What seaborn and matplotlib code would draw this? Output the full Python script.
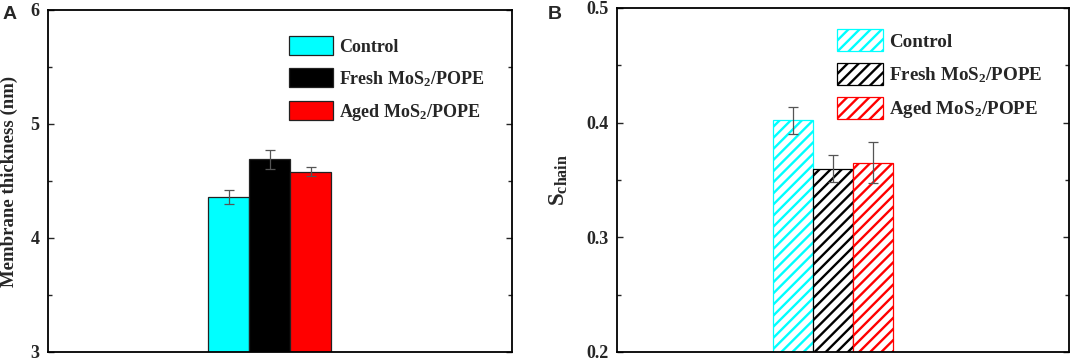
import pandas as pd
import matplotlib
matplotlib.use('Agg')
import matplotlib.pyplot as plt
import seaborn as sns
from matplotlib.ticker import MultipleLocator

# 数据
groups = ['Control', 'Fresh MoS$_2$/POPE', 'Aged MoS$_2$/POPE']
colors = ['#00FFFF', '#000000', '#FF0000']
thickness = [4.36, 4.69, 4.58]
thickness_err = [0.06, 0.085, 0.04]
schain = [0.402, 0.360, 0.365]
schain_err = [0.012, 0.012, 0.018]

sns.set_style('ticks')
plt.rcParams['font.family'] = ['Liberation Serif', 'DejaVu Serif']
plt.rcParams['font.weight'] = 'bold'
plt.rcParams['mathtext.fontset'] = 'custom'
plt.rcParams['mathtext.rm'] = 'Liberation Serif:bold'
plt.rcParams['mathtext.it'] = 'Liberation Serif:bold'
plt.rcParams['mathtext.bf'] = 'Liberation Serif:bold'
plt.rcParams['hatch.linewidth'] = 1.7

fig = plt.figure(figsize=(10.72, 3.6), dpi=100)
ax1 = fig.add_axes([48 / 1072, 8 / 360, 464 / 1072, 342 / 360])
ax2 = fig.add_axes([617 / 1072, 8 / 360, 452 / 1072, 344 / 360])

df_a = pd.DataFrame({'组': groups, '值': thickness})
df_b = pd.DataFrame({'组': groups, '值': schain})

# A: 实心柱
sns.barplot(data=df_a, x='组', y='值', hue='组', palette=colors, width=1.0,
            errorbar=None, legend=False, ax=ax1, edgecolor='#222222', linewidth=0.9,
            saturation=1)

# B: 斜线填充柱
sns.barplot(data=df_b, x='组', y='值', hue='组', palette=colors, width=1.0,
            errorbar=None, legend=False, ax=ax2, saturation=1)
for p, c in zip(ax2.patches, colors):
    p.set_facecolor('white')
    p.set_edgecolor(c)
    p.set_linewidth(0.9)
    p.set_hatch('///')

for ax, vals, errs in [(ax1, thickness, thickness_err), (ax2, schain, schain_err)]:
    xs = [p.get_x() + p.get_width() / 2 for p in ax.patches[:len(vals)]]
    ax.errorbar(xs, vals, yerr=errs, fmt='none', ecolor='#555555',
                elinewidth=0.9, capsize=3.5, capthick=0.9, zorder=5)
    ax.set_xlim(1 - 5.4, 1 + 5.9)
    ax.set_xticks([])
    ax.set_xlabel('')
    for s in ax.spines.values():
        s.set_visible(True)
        s.set_linewidth(1.3)
        s.set_color('black')
    ax.tick_params(axis='y', which='major', direction='in', left=True, right=True,
                   length=4, width=1.0, labelsize=13, pad=6)
    ax.tick_params(axis='y', which='minor', direction='in', left=True, right=True,
                   length=3, width=1.0)
    for t in ax.get_yticklabels():
        t.set_fontweight('bold')

ax1.set_ylim(3, 6)
ax1.yaxis.set_major_locator(MultipleLocator(1))
ax1.yaxis.set_minor_locator(MultipleLocator(0.5))
ax2.set_ylim(0.2, 0.5)
ax2.yaxis.set_major_locator(MultipleLocator(0.1))
ax2.yaxis.set_minor_locator(MultipleLocator(0.05))
ax2.yaxis.set_major_formatter(plt.FormatStrFormatter('%.1f'))

ax1.set_ylabel('Membrane thickness (nm)', fontsize=13.5, fontweight='bold')
ax1.yaxis.set_label_coords(-0.064, 0.5)
ax2.set_ylabel('S$_{\\mathrm{chain}}$', fontsize=16.5, fontweight='bold')
ax2.yaxis.set_label_coords(-0.103, 0.5)

# 图例
ax1.legend(handles=list(ax1.patches[:3]), labels=groups, loc='upper left',
           bbox_to_anchor=(0.52, 0.923), frameon=False,
           prop=dict(family='Liberation Serif', weight='bold', size=13),
           handlelength=2.4, handleheight=1.22, handletextpad=0.35,
           labelspacing=0.7, borderpad=0, borderaxespad=0)
ax2.legend(handles=list(ax2.patches[:3]), labels=groups, loc='upper left',
           bbox_to_anchor=(0.487, 0.938), frameon=False,
           prop=dict(family='Liberation Serif', weight='bold', size=13.7),
           handlelength=2.4, handleheight=1.4, handletextpad=0.35,
           labelspacing=0.62, borderpad=0, borderaxespad=0)

# 面板字母
fig.text(3 / 1072, 1 - 19 / 360, 'A', family='Liberation Sans', weight='bold', fontsize=14)
fig.text(548 / 1072, 1 - 19 / 360, 'B', family='Liberation Sans', weight='bold', fontsize=14)

fig.savefig('out.png', dpi=100)
